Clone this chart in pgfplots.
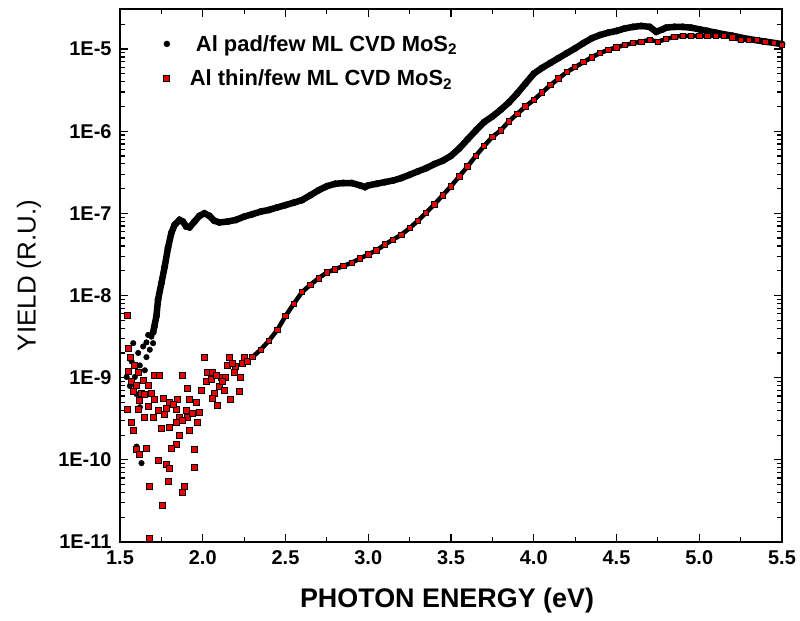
\documentclass[border=0pt]{standalone}
\usepackage{fontspec}
\setmainfont{Liberation Sans}
\usepackage{pgfplots}
\pgfplotsset{compat=1.18}
\definecolor{mred}{RGB}{235,0,0}
\begin{document}
\begin{tikzpicture}
\path[use as bounding box] (-120bp,-79bp) rectangle (680bp,542bp);
\begin{axis}[
 at={(0,0)}, anchor=south west,
 scale only axis, width=662bp, height=533bp,
 xmin=1.5, xmax=5.5, ymode=log, ymin=1e-11, ymax=3.07e-5,
 xtick={1.5,2.0,2.5,3.0,3.5,4.0,4.5,5.0,5.5},
 xticklabels={1.5,2.0,2.5,3.0,3.5,4.0,4.5,5.0,5.5},
 minor xtick={1.75,2.25,2.75,3.25,3.75,4.25,4.75,5.25},
 ytick={1e-11,1e-10,1e-9,1e-8,1e-7,1e-6,1e-5},
 yticklabels={1E-11,1E-10,1E-9,1E-8,1E-7,1E-6,1E-5},
 minor ytick={2e-11,3e-11,4e-11,5e-11,6e-11,7e-11,8e-11,9e-11,
  2e-10,3e-10,4e-10,5e-10,6e-10,7e-10,8e-10,9e-10,
  2e-9,3e-9,4e-9,5e-9,6e-9,7e-9,8e-9,9e-9,
  2e-8,3e-8,4e-8,5e-8,6e-8,7e-8,8e-8,9e-8,
  2e-7,3e-7,4e-7,5e-7,6e-7,7e-7,8e-7,9e-7,
  2e-6,3e-6,4e-6,5e-6,6e-6,7e-6,8e-6,9e-6,
  2e-5,3e-5},
 tick align=inside,
 major tick length=8bp, minor tick length=5bp,
 tick style={black, line width=1.2bp},
 axis line style={line width=1.6bp},
 ticklabel style={font=\fontsize{20}{24}\selectfont\bfseries},
 xticklabel style={yshift=-5bp},
 yticklabel style={xshift=-5bp},
 xlabel={PHOTON ENERGY (eV)}, ylabel={YIELD (R.U.)},
 xlabel style={font=\fontsize{27}{30}\selectfont\bfseries, at={(axis description cs:0.494,-0.109)}, anchor=center},
 ylabel style={font=\fontsize{26}{30}\selectfont, at={(axis description cs:-0.1375,0.5)}, anchor=center},
 legend style={draw=none, fill=none, at={(axis description cs:0.066,0.955)}, anchor=north west,
   font=\fontsize{22}{25}\selectfont\bfseries, row sep=13bp, inner sep=0pt,
   /tikz/every odd column/.append style={column sep=18bp}},
 legend cell align=left,
 clip=true,
]
\addlegendimage{only marks, mark=*, mark size=3bp, black}
\addlegendentry{\ Al pad/few ML CVD MoS\textsubscript{2}}
\addlegendimage{only marks, mark=square*, mark size=3bp, mark options={fill=mred, draw=black, line width=0.8bp}}
\addlegendentry{Al thin/few ML CVD MoS\textsubscript{2}}

% black: scattered low-energy points
\addplot[forget plot, only marks, mark=*, mark size=2.8bp, black] table {
x y
1.54 1.02e-9
1.58 2.63e-9
1.59 1.02e-9
1.62 1.41e-9
1.65 1.23e-9
1.66 2.69e-9
1.68 2.19e-9
1.69 3.16e-9
1.62 4.37e-10
1.60 1.45e-10
1.63 9.12e-11
1.57 1.58e-9
1.61 2.00e-9
1.64 2.40e-9
1.67 3.31e-9
1.56 7.94e-10
1.60 6.31e-10
1.66 1.78e-9
1.70 2.63e-9
1.71 4.17e-9
};
% black: main curve
\addplot[forget plot, black, line width=6.5bp, mark=*, mark size=3.2bp, mark options={line width=0.5bp}] table {
x y
1.70 3.55e-9
1.72 5.62e-9
1.73 8.91e-9
1.75 1.41e-8
1.77 2.24e-8
1.79 3.80e-8
1.81 5.75e-8
1.83 7.24e-8
1.86 8.32e-8
1.88 7.94e-8
1.90 6.92e-8
1.92 6.76e-8
1.95 7.94e-8
1.98 9.33e-8
2.01 1.00e-7
2.04 9.33e-8
2.07 8.13e-8
2.10 7.76e-8
2.15 7.94e-8
2.20 8.32e-8
2.25 9.12e-8
2.30 9.77e-8
2.35 1.05e-7
2.40 1.10e-7
2.45 1.18e-7
2.50 1.26e-7
2.55 1.35e-7
2.60 1.45e-7
2.65 1.66e-7
2.70 1.91e-7
2.75 2.14e-7
2.80 2.29e-7
2.85 2.34e-7
2.90 2.34e-7
2.95 2.19e-7
2.98 2.09e-7
3.00 2.19e-7
3.05 2.29e-7
3.10 2.40e-7
3.15 2.51e-7
3.20 2.69e-7
3.25 2.95e-7
3.30 3.24e-7
3.35 3.55e-7
3.40 3.98e-7
3.45 4.37e-7
3.50 5.01e-7
3.55 6.17e-7
3.60 7.94e-7
3.65 1.02e-6
3.70 1.29e-6
3.75 1.51e-6
3.80 1.82e-6
3.85 2.24e-6
3.90 2.88e-6
3.95 3.80e-6
4.00 5.01e-6
4.05 5.89e-6
4.10 6.76e-6
4.15 7.76e-6
4.20 8.91e-6
4.25 1.02e-5
4.30 1.18e-5
4.35 1.35e-5
4.40 1.48e-5
4.45 1.58e-5
4.50 1.66e-5
4.55 1.78e-5
4.60 1.86e-5
4.65 1.91e-5
4.70 1.86e-5
4.74 1.62e-5
4.78 1.74e-5
4.80 1.82e-5
4.85 1.86e-5
4.90 1.86e-5
4.95 1.82e-5
5.00 1.74e-5
5.05 1.66e-5
5.10 1.58e-5
5.20 1.45e-5
5.30 1.32e-5
5.40 1.23e-5
5.50 1.15e-5
};
% red: scattered low-energy points
\addplot[forget plot, only marks, mark=square*, mark size=3bp, mark options={fill=mred, draw=black, line width=0.9bp}] table {
x y
1.548 5.75e-9
1.554 2.24e-9
1.566 1.78e-9
1.554 1.20e-9
1.59 1.41e-9
1.61 1.15e-9
1.64 9.33e-10
1.67 8.13e-10
1.71 1.05e-9
1.74 1.05e-9
1.58 6.76e-10
1.63 6.46e-10
1.69 6.46e-10
1.71 5.37e-10
1.76 5.62e-10
1.80 5.01e-10
1.85 5.37e-10
1.92 5.37e-10
1.548 4.07e-10
1.61 4.07e-10
1.65 3.24e-10
1.57 2.88e-10
1.58 2.29e-10
1.70 3.31e-10
1.75 2.40e-10
1.78 4.27e-10
1.84 4.07e-10
1.86 3.31e-10
1.84 2.82e-10
1.80 2.45e-10
1.86 2.00e-10
1.905 3.24e-10
1.92 2.29e-10
1.97 2.88e-10
1.98 3.80e-10
1.94 3.72e-10
1.88 1.05e-9
1.91 7.41e-10
2.01 1.78e-9
1.60 1.32e-10
1.66 1.38e-10
1.62 1.15e-10
1.73 9.77e-11
1.78 8.71e-11
1.80 7.76e-11
1.84 1.55e-10
1.81 1.38e-10
1.95 1.35e-10
1.95 8.13e-11
1.79 5.50e-11
1.68 4.68e-11
1.89 4.68e-11
1.88 3.98e-11
1.755 2.82e-11
1.68 1.10e-11
1.57 8.91e-10
1.60 7.94e-10
1.62 5.25e-10
1.65 6.31e-10
1.67 4.47e-10
1.73 3.98e-10
1.77 3.55e-10
1.82 4.68e-10
1.88 3.02e-10
1.90 3.98e-10
1.96 5.01e-10
1.995 7.08e-10
2.03 1.15e-9
2.06 1.17e-9
2.07 6.46e-10
2.06 5.62e-10
2.09 4.57e-10
2.10 7.76e-10
2.11 1.02e-9
2.14 1.00e-9
2.15 1.41e-9
2.17 5.37e-10
2.16 1.74e-9
2.19 1.17e-9
2.22 6.76e-10
2.24 1.51e-9
2.25 1.78e-9
2.02 8.91e-10
2.05 9.55e-10
2.08 1.05e-9
2.12 8.91e-10
2.20 1.38e-9
2.27 1.58e-9
2.18 1.51e-9
2.13 7.08e-10
2.23 1.00e-9
};
% red: main curve
\addplot[forget plot, black, line width=4.5bp, mark=square*, mark size=2.7bp, mark options={fill=mred, draw=black, line width=0.8bp}] table {
x y
2.30 1.78e-9
2.35 2.19e-9
2.40 2.82e-9
2.45 3.80e-9
2.50 5.62e-9
2.55 7.94e-9
2.60 1.10e-8
2.65 1.35e-8
2.70 1.62e-8
2.75 1.91e-8
2.80 2.09e-8
2.85 2.29e-8
2.90 2.51e-8
2.95 2.82e-8
3.00 3.16e-8
3.05 3.55e-8
3.10 4.17e-8
3.15 4.79e-8
3.20 5.50e-8
3.25 6.61e-8
3.30 8.13e-8
3.35 1.02e-7
3.40 1.29e-7
3.45 1.66e-7
3.50 2.14e-7
3.55 2.82e-7
3.60 3.72e-7
3.65 5.01e-7
3.70 6.61e-7
3.75 8.51e-7
3.80 1.02e-6
3.85 1.32e-6
3.90 1.62e-6
3.95 2.00e-6
4.00 2.40e-6
4.05 2.95e-6
4.10 3.63e-6
4.15 4.37e-6
4.20 5.25e-6
4.25 6.03e-6
4.30 6.92e-6
4.35 7.94e-6
4.40 8.91e-6
4.45 9.77e-6
4.50 1.05e-5
4.55 1.12e-5
4.60 1.18e-5
4.65 1.23e-5
4.70 1.29e-5
4.75 1.23e-5
4.80 1.32e-5
4.85 1.41e-5
4.90 1.45e-5
4.95 1.45e-5
5.00 1.45e-5
5.05 1.45e-5
5.10 1.45e-5
5.15 1.45e-5
5.20 1.38e-5
5.25 1.29e-5
5.30 1.29e-5
5.35 1.29e-5
5.40 1.23e-5
5.45 1.18e-5
5.50 1.12e-5
};
\end{axis}
\end{tikzpicture}
\end{document}
